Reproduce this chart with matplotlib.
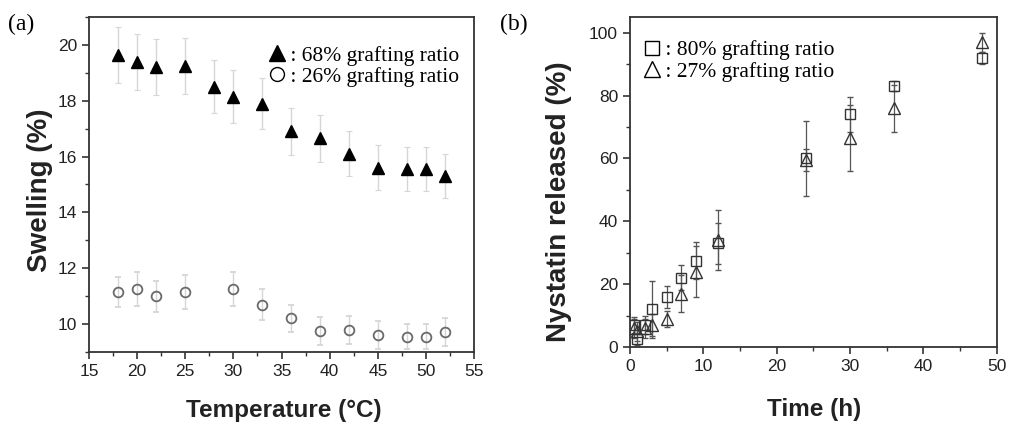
import matplotlib
matplotlib.use("Agg")
import matplotlib.pyplot as plt
from matplotlib.ticker import MultipleLocator
from matplotlib.lines import Line2D

# ---- Panel (a) data ----
temp_68 = [18, 20, 22, 25, 28, 30, 33, 36, 39, 42, 45, 48, 50, 52]
swell_68 = [19.65, 19.4, 19.2, 19.25, 18.5, 18.15, 17.9, 16.9, 16.65, 16.1, 15.6, 15.55, 15.55, 15.3]
err_68 = [1.0, 1.0, 1.0, 1.0, 0.95, 0.95, 0.9, 0.85, 0.85, 0.8, 0.8, 0.8, 0.8, 0.8]
temp_26 = [18, 20, 22, 25, 30, 33, 36, 39, 42, 45, 48, 50, 52]
swell_26 = [11.15, 11.25, 11.0, 11.15, 11.25, 10.7, 10.2, 9.75, 9.8, 9.6, 9.55, 9.55, 9.7]
err_26 = [0.55, 0.6, 0.55, 0.6, 0.6, 0.55, 0.5, 0.5, 0.5, 0.5, 0.45, 0.45, 0.5]

# ---- Panel (b) data ----
time_80 = [0.5, 1, 2, 3, 5, 7, 9, 12, 24, 30, 36, 48]
rel_80 = [7.0, 2.5, 7.0, 12.0, 16.0, 22.0, 27.5, 33.0, 60.0, 74.0, 83.0, 92.0]
err_80 = [2.5, 2.0, 3.0, 9.0, 3.5, 4.0, 6.0, 6.5, 12.0, 5.5, 1.5, 2.0]
time_27 = [0.5, 1, 2, 3, 5, 7, 9, 12, 24, 30, 36, 48]
rel_27 = [6.0, 5.0, 6.0, 7.0, 9.0, 17.0, 24.0, 34.0, 59.5, 66.5, 76.0, 97.0]
err_27 = [3.0, 3.0, 3.0, 3.5, 2.5, 6.0, 8.0, 9.5, 3.5, 10.5, 7.5, 3.0]

fig = plt.figure(figsize=(10.11, 4.28), dpi=100)
sans = ["Liberation Sans", "DejaVu Sans"]
serif = ["Liberation Serif", "DejaVu Serif"]

# ---------- (a) ----------
ax1 = fig.add_axes([0.088, 0.1776, 0.381, 0.7827])
ax1.errorbar(temp_68, swell_68, yerr=err_68, fmt="^", color="black", ms=8,
             ecolor="#d6d6d6", elinewidth=1.0, capsize=2.5, capthick=0.8)
ax1.errorbar(temp_26, swell_26, yerr=err_26, fmt="o", mfc="none", mec="#6a6a6a",
             mew=1.3, ms=7, ecolor="#d6d6d6", elinewidth=1.0, capsize=2.5, capthick=0.8)
ax1.set_xlim(15, 55)
ax1.set_ylim(9, 21)
ax1.xaxis.set_major_locator(MultipleLocator(5))
ax1.xaxis.set_minor_locator(MultipleLocator(2.5))
ax1.yaxis.set_major_locator(MultipleLocator(2))
ax1.yaxis.set_minor_locator(MultipleLocator(1))
ax1.set_xlabel("Temperature (°C)", fontsize=17.5, fontweight="bold", family=sans, color="#222222")
ax1.set_ylabel("Swelling (%)", fontsize=20, fontweight="bold", family=sans, color="#222222")
ax1.xaxis.set_label_coords(0.506, -0.14)
ax1.yaxis.set_label_coords(-0.094, 0.484)
h1 = [Line2D([], [], marker="^", ls="none", color="black", ms=11),
      Line2D([], [], marker="o", ls="none", mfc="none", mec="black", ms=10, mew=1.0)]
ax1.legend(h1, [" : 68% grafting ratio", " : 26% grafting ratio"], loc="upper right",
           bbox_to_anchor=(1.0, 0.96), frameon=False, handlelength=0.7, handletextpad=0.0,
           labelspacing=0.05, prop={"family": serif, "size": 15.5}, borderaxespad=0.3)
fig.text(0.008, 0.93, "(a)", fontsize=17, family=serif)

# ---------- (b) ----------
ax2 = fig.add_axes([0.623, 0.1893, 0.363, 0.771])
ax2.errorbar(time_80, rel_80, yerr=err_80, fmt="s", mfc="none", mec="#333333", mew=1.0,
             ms=7, ecolor="#555555", elinewidth=0.9, capsize=2.5, capthick=0.9)
ax2.errorbar(time_27, rel_27, yerr=err_27, fmt="^", mfc="none", mec="#333333", mew=1.0,
             ms=9, ecolor="#555555", elinewidth=0.9, capsize=2.5, capthick=0.9)
ax2.set_xlim(0, 50)
ax2.set_ylim(0, 105)
ax2.xaxis.set_major_locator(MultipleLocator(10))
ax2.xaxis.set_minor_locator(MultipleLocator(5))
ax2.yaxis.set_major_locator(MultipleLocator(20))
ax2.yaxis.set_minor_locator(MultipleLocator(10))
ax2.set_xlabel("Time (h)", fontsize=17.5, fontweight="bold", family=sans, color="#222222")
ax2.set_ylabel("Nystatin released (%)", fontsize=20, fontweight="bold", family=sans, color="#222222")
ax2.xaxis.set_label_coords(0.501, -0.155)
ax2.yaxis.set_label_coords(-0.158, 0.44)
h2 = [Line2D([], [], marker="s", ls="none", mfc="none", mec="black", ms=10, mew=1.0),
      Line2D([], [], marker="^", ls="none", mfc="none", mec="black", ms=12, mew=1.0)]
ax2.legend(h2, [" : 80% grafting ratio", " : 27% grafting ratio"], loc="upper left",
           bbox_to_anchor=(0.0, 0.975), frameon=False, handlelength=0.7, handletextpad=0.0,
           labelspacing=0.05, prop={"family": serif, "size": 15.5}, borderaxespad=0.3)
fig.text(0.495, 0.93, "(b)", fontsize=17, family=serif)

for ax in (ax1, ax2):
    for s in ax.spines.values():
        s.set_linewidth(1.3)
        s.set_color("#333333")
    ax.tick_params(axis="both", which="major", direction="out", length=5, width=1.2,
                   labelsize=12.5, colors="#333333", labelcolor="#222222")
    ax.tick_params(axis="both", which="minor", direction="out", length=3, width=1.0, colors="#333333")
    for lab in ax.get_xticklabels() + ax.get_yticklabels():
        lab.set_family(sans)

fig.savefig("out.png", dpi=100)
